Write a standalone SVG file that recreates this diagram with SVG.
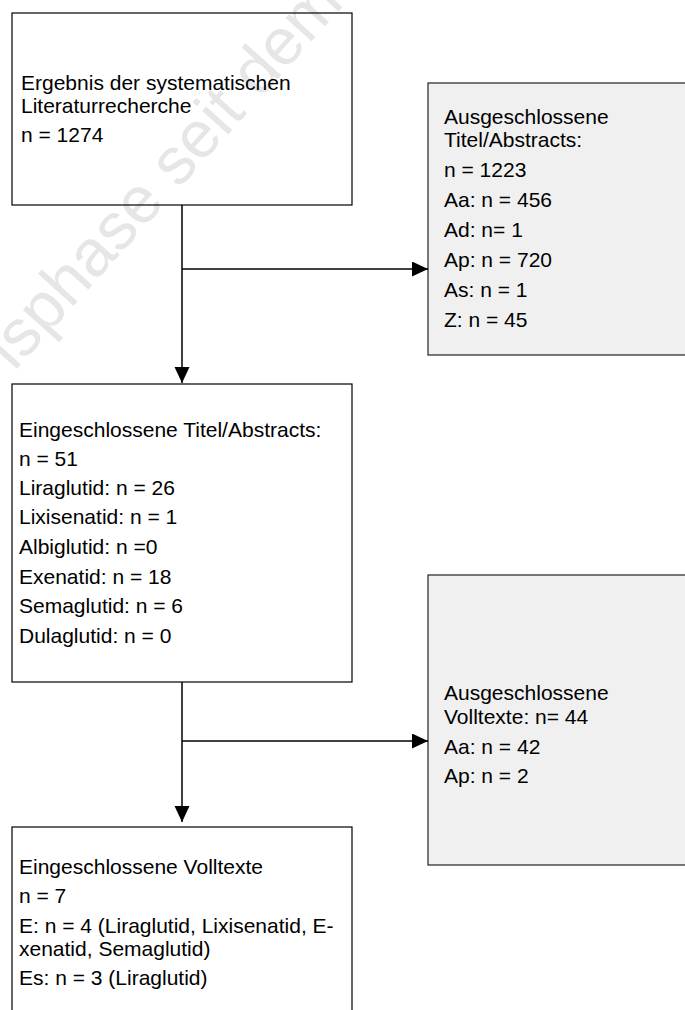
<svg xmlns="http://www.w3.org/2000/svg" width="685" height="1010" viewBox="0 0 685 1010">
  <style>
    .box { fill: none; stroke: #000; stroke-width: 1.2; }
    .excl { fill: #f0f0f0; stroke: #222; stroke-width: 1.2; }
    .t { font-family: "Liberation Sans", Arial, sans-serif; font-size: 21px; fill: #000; }
    .wire { stroke: #000; stroke-width: 1.5; fill: none; }
    .mark { font-family: "Liberation Sans", Arial, sans-serif; font-size: 66px; fill: #e6e6e6; }
  </style>
  <defs>
    <marker id="head" markerUnits="userSpaceOnUse" markerWidth="16" markerHeight="16" refX="16" refY="7.5" orient="auto">
      <path d="M0,0 L16,7.5 L0,15 Z" fill="#000"/>
    </marker>
  </defs>

  <rect width="685" height="1010" fill="#fff"/>

  <!-- background watermark -->
  <text class="mark" transform="translate(14,372) rotate(-48)">isphase seit dem</text>

  <g id="search">
    <rect class="box" x="12" y="13" width="340" height="192"/>
    <text class="t" x="21" y="90">Ergebnis der systematischen</text>
    <text class="t" x="21" y="113">Literaturrecherche</text>
    <text class="t" x="21" y="142">n = 1274</text>
  </g>

  <g id="excluded-abstracts">
    <rect class="excl" x="428" y="83" width="262" height="272"/>
    <text class="t" x="444" y="124">Ausgeschlossene</text>
    <text class="t" x="444" y="147">Titel/Abstracts:</text>
    <text class="t" x="444" y="177">n = 1223</text>
    <text class="t" x="444" y="207">Aa: n = 456</text>
    <text class="t" x="444" y="237">Ad: n= 1</text>
    <text class="t" x="444" y="267">Ap: n = 720</text>
    <text class="t" x="444" y="297">As: n = 1</text>
    <text class="t" x="444" y="327">Z: n = 45</text>
  </g>

  <g id="included-abstracts">
    <rect class="box" x="12" y="384" width="340" height="298"/>
    <text class="t" x="19" y="437">Eingeschlossene Titel/Abstracts:</text>
    <text class="t" x="19" y="466">n = 51</text>
    <text class="t" x="19" y="495">Liraglutid: n = 26</text>
    <text class="t" x="19" y="524">Lixisenatid: n = 1</text>
    <text class="t" x="19" y="554">Albiglutid: n =0</text>
    <text class="t" x="19" y="584">Exenatid: n = 18</text>
    <text class="t" x="19" y="613">Semaglutid: n = 6</text>
    <text class="t" x="19" y="643">Dulaglutid: n = 0</text>
  </g>

  <g id="excluded-fulltexts">
    <rect class="excl" x="428" y="575" width="262" height="290"/>
    <text class="t" x="444" y="700">Ausgeschlossene</text>
    <text class="t" x="444" y="724">Volltexte: n= 44</text>
    <text class="t" x="444" y="754">Aa: n = 42</text>
    <text class="t" x="444" y="783">Ap: n = 2</text>
  </g>

  <g id="included-fulltexts">
    <rect class="box" x="12" y="827" width="340" height="200"/>
    <text class="t" x="19" y="874">Eingeschlossene Volltexte</text>
    <text class="t" x="19" y="903">n = 7</text>
    <text class="t" x="19" y="933">E: n = 4 (Liraglutid, Lixisenatid, E-</text>
    <text class="t" x="19" y="956">xenatid, Semaglutid)</text>
    <text class="t" x="19" y="985">Es: n = 3 (Liraglutid)</text>
  </g>

  <g id="connectors">
    <line class="wire" x1="182" y1="205" x2="182" y2="383" marker-end="url(#head)"/>
    <line class="wire" x1="182" y1="269" x2="428" y2="269" marker-end="url(#head)"/>
    <line class="wire" x1="182" y1="682" x2="182" y2="822" marker-end="url(#head)"/>
    <line class="wire" x1="182" y1="741" x2="428" y2="741" marker-end="url(#head)"/>
  </g>
</svg>
